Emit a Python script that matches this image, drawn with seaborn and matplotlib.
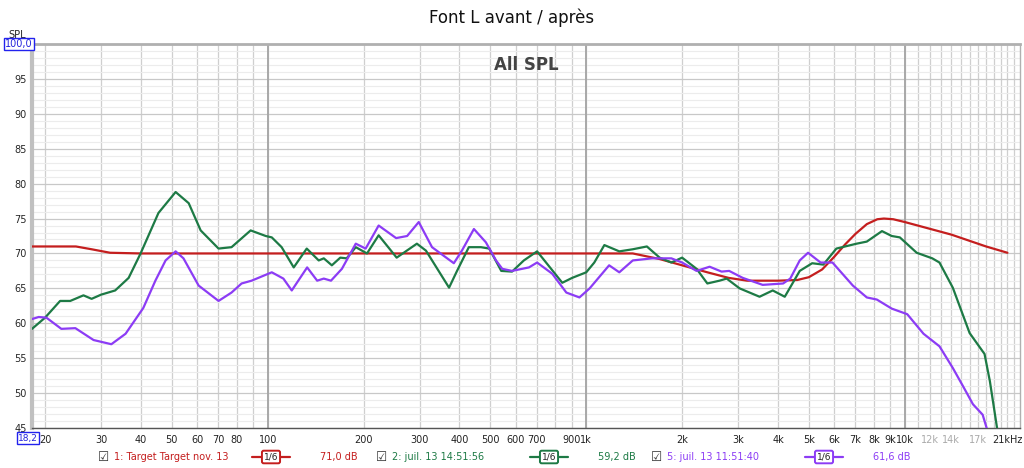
import numpy as np
import pandas as pd
import matplotlib
matplotlib.use("Agg")
import matplotlib.pyplot as plt
import seaborn as sns

# --- data (freq in Hz, level in dB) ---
target_f = [18.2, 25, 28, 32, 40, 100, 1000, 1400, 1700, 2000, 2400, 2800, 3200, 4000, 4600,
            5000, 5500, 6000, 6500, 7000, 7600, 8200, 8600, 9200, 10000, 14000, 18000, 21000]
target_db = [71.0, 71.0, 70.6, 70.1, 70.0, 70.0, 70.0, 70.0, 69.2, 68.3, 67.3, 66.5, 66.1, 66.1, 66.2,
             66.6, 67.7, 69.5, 71.3, 72.8, 74.2, 74.9, 75.0, 74.9, 74.5, 72.7, 71.0, 70.1]

green_f = [18.2, 20.0, 22.3, 24.0, 26.4, 28.0, 30.0, 33.2, 36.6, 39.9, 45.4, 51.4, 56.5, 61.6,
           70.1, 77.0, 88.4, 98.6, 103, 110.6, 120.7, 132.6, 144.6, 150, 159, 169, 177, 189,
           205, 223, 254, 294, 314, 371, 393, 428, 467, 496, 541, 585, 637, 701, 748, 841,
           903, 1000, 1060, 1140, 1270, 1400, 1550, 1700, 1850, 2000, 2220, 2400, 2620, 2760,
           3030, 3500, 3850, 4200, 4680, 5120, 5550, 6100, 7060, 7600, 8480, 9100, 9650,
           10900, 12200, 12850, 14150, 15980, 17800, 18500, 19200, 19500]
green_db = [59.2, 60.8, 63.2, 63.2, 64.0, 63.5, 64.1, 64.7, 66.5, 70.0, 75.8, 78.8, 77.2, 73.3,
            70.7, 70.9, 73.3, 72.5, 72.3, 70.9, 68.0, 70.7, 69.0, 69.3, 68.3, 69.4, 69.3, 70.9,
            70.0, 72.6, 69.4, 71.4, 70.4, 65.1, 67.5, 70.9, 70.9, 70.7, 67.5, 67.4, 69.0, 70.3,
            68.7, 65.8, 66.5, 67.3, 68.7, 71.2, 70.3, 70.6, 71.0, 69.4, 68.7, 69.4, 67.8, 65.7,
            66.1, 66.4, 65.0, 63.8, 64.7, 63.8, 67.5, 68.6, 68.4, 70.7, 71.4, 71.7, 73.2, 72.5,
            72.3, 70.1, 69.3, 68.7, 65.1, 58.6, 55.6, 51.7, 46.9, 44.9]

purple_f = [18.2, 19.1, 20.2, 22.5, 24.9, 28.4, 32.3, 35.8, 40.7, 44.4, 47.8, 51.4, 54.4, 60.7,
            70.1, 77.0, 82.8, 89, 103, 112, 119, 133, 143, 150, 158, 171, 189, 203, 223, 253,
            274, 298, 328, 384, 407, 444, 484, 521, 545, 585, 661, 701, 782, 866, 952, 1025,
            1180, 1270, 1400, 1610, 1850, 2000, 2220, 2440, 2660, 2810, 3100, 3580, 4150,
            4370, 4680, 4970, 5440, 5930, 6870, 7600, 8170, 9100, 10180, 11450, 12850, 14150,
            15230, 16370, 17560, 18100]
purple_db = [60.6, 60.9, 60.8, 59.2, 59.3, 57.6, 57.0, 58.5, 62.2, 66.1, 69.0, 70.3, 69.3, 65.4,
             63.2, 64.4, 65.7, 66.1, 67.3, 66.4, 64.7, 68.0, 66.1, 66.4, 66.1, 67.8, 71.4, 70.7,
             74.0, 72.2, 72.5, 74.5, 70.9, 68.6, 70.4, 73.5, 71.6, 69.0, 67.8, 67.5, 68.0, 68.7,
             67.1, 64.4, 63.7, 65.0, 68.3, 67.3, 69.0, 69.3, 69.3, 68.7, 67.5, 68.1, 67.4, 67.5,
             66.5, 65.5, 65.7, 66.4, 69.0, 70.1, 68.7, 68.7, 65.4, 63.7, 63.4, 62.1, 61.3, 58.5,
             56.7, 53.6, 51.0, 48.4, 46.9, 44.9]

x_ticks = [20, 30, 40, 50, 60, 70, 80, 100, 200, 300, 400, 500, 600, 700, 900, 1000,
           2000, 3000, 4000, 5000, 6000, 7000, 8000, 9000, 10000, 12000, 14000, 17000, 21000]
x_labels = ["20", "30", "40", "50", "60", "70", "80", "100", "200", "300", "400", "500", "600",
            "700", "900", "1k", "2k", "3k", "4k", "5k", "6k", "7k", "8k", "9k", "10k", "12k",
            "14k", "17k", "21kHz"]
grid_f = [20, 30, 40, 50, 60, 70, 80, 90, 200, 300, 400, 500, 600, 700, 800, 900,
          2000, 3000, 4000, 5000, 6000, 7000, 8000, 9000,
          11000, 12000, 13000, 14000, 15000, 16000, 17000, 18000, 19000, 20000, 21000, 22000]

series = [
    ("1: Target Target nov. 13", target_f, target_db, "#c41e1e", "71,0 dB"),
    ("2: juil. 13 14:51:56", green_f, green_db, "#1d7a45", "59,2 dB"),
    ("5: juil. 13 11:51:40", purple_f, purple_db, "#8c3cf5", "61,6 dB"),
]

sns.set_style("white")
plt.rcParams['font.family'] = ['DejaVu Sans']

fig = plt.figure(figsize=(10.24, 4.68), dpi=100)
ax = fig.add_axes([32/1024, 1 - 428/468, 988/1024, 384/468])

for name, f, db, col, _ in series:
    df = pd.DataFrame({"f": f, "db": db})
    sns.lineplot(data=df, x="f", y="db", ax=ax, color=col, lw=1.6, sort=False, estimator=None,
                 zorder=3)

ax.set_xscale("log")
ax.set_xlim(18.2, 23000)
ax.set_ylim(45, 100)

ax.set_xticks(x_ticks)
ax.set_xticklabels(x_labels)
ax.set_xticks(grid_f, minor=True)
ax.xaxis.set_minor_formatter(matplotlib.ticker.NullFormatter())
for lab, v in zip(ax.get_xticklabels(), x_ticks):
    lab.set_color("#aaaaaa" if v in (12000, 14000, 17000) else "#222222")

ax.set_yticks(np.arange(45, 101, 5))
ax.set_yticklabels([str(v) for v in range(45, 100, 5)] + [""])
ax.set_yticks(np.arange(45, 101, 1), minor=True)
ax.tick_params(which="both", length=0, labelsize=7)
ax.tick_params(axis="x", pad=5)
ax.tick_params(axis="y", pad=4)

ax.grid(True, which="minor", axis="y", color="#ececec", lw=0.8)
ax.grid(True, which="major", axis="y", color="#c8c8c8", lw=0.9)
ax.grid(True, which="both", axis="x", color="#cfcfcf", lw=0.9)
ax.set_axisbelow(True)
for v in (100, 1000, 10000):
    ax.axvline(v, color="#a8a8a8", lw=1.4, zorder=1.5)
ax.set_xlabel("")
ax.set_ylabel("")
for s in ax.spines.values():
    s.set_color("#b0b0b0")
    s.set_linewidth(1.0)
ax.spines["left"].set_linewidth(3)
ax.spines["left"].set_color("#c0c0c0")
ax.spines["top"].set_linewidth(2)
ax.spines["bottom"].set_color("#555555")

fig.text(0.5, 1 - 18/468, "Font L avant / après", ha="center", va="center", fontsize=12, color="#111111")
ax.text(0.5, 0.97, "All SPL", transform=ax.transAxes, ha="center", va="top",
        fontsize=12, color="#444444", fontweight="bold")
fig.text(17/1024, 1 - 35/468, "SPL", ha="center", va="center", fontsize=7, color="#222222")
fig.text(19/1024, 1 - 44/468, "100,0", ha="center", va="center", fontsize=7, color="#2222dd",
         bbox=dict(boxstyle="square,pad=0.15", fc="white", ec="#2222ee", lw=1))
fig.text(28/1024, 1 - 438/468, "18,2", ha="center", va="center", fontsize=6.5, color="#2222dd",
         bbox=dict(boxstyle="square,pad=0.12", fc="white", ec="#2222ee", lw=1))

# legend row
ly = 1 - 457/468
starts = [104, 382, 657]
for (name, f, db, col, val), x0 in zip(series, starts):
    fig.text(x0/1024, ly, "\u2611", ha="center", va="center", fontsize=9, color="#333333")
    fig.text((x0 + 10)/1024, ly, name, ha="left", va="center", fontsize=7, color=col)
    lx = x0 + 148
    fig.add_artist(plt.Line2D([lx/1024, (lx + 38)/1024], [ly, ly], color=col, lw=1.6))
    fig.text((lx + 19)/1024, ly, "1/6", ha="center", va="center", fontsize=6.5, color="#222222",
             bbox=dict(boxstyle="round,pad=0.2", fc="white", ec=col, lw=1.4))
    fig.text((lx + 68)/1024, ly, val, ha="left", va="center", fontsize=7, color=col)

fig.savefig("out.png", dpi=100)
